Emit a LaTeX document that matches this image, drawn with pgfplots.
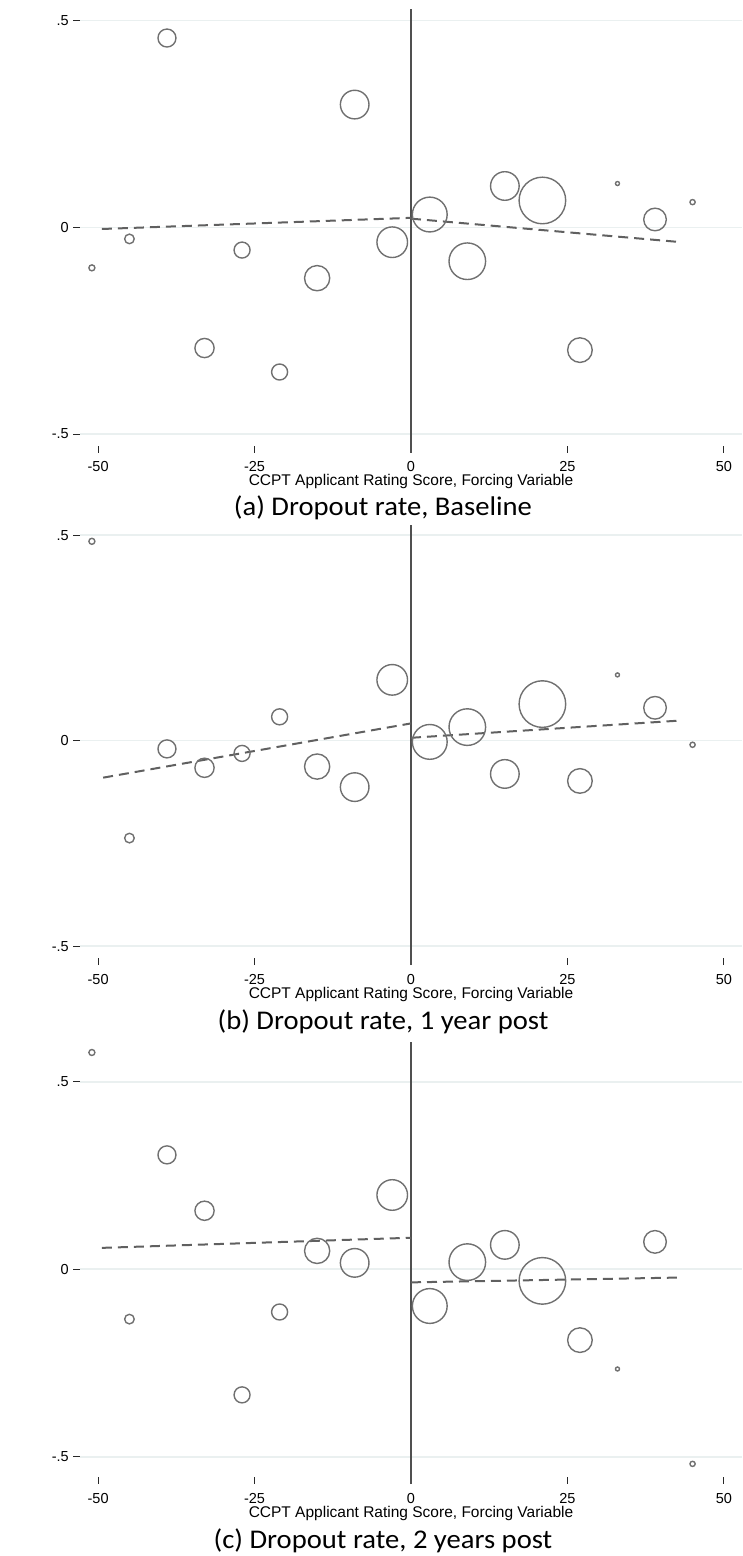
\documentclass[border=0pt]{standalone}
\usepackage{fontspec}
\setmainfont{Liberation Sans}
\newfontfamily\capfont[FakeStretch=1.06]{Carlito}
\usepackage{pgfplots}
\usepackage{pgfplotstable}
\pgfplotsset{compat=1.18}

\definecolor{circ}{RGB}{112,112,112}
\definecolor{fitc}{RGB}{96,96,96}
\definecolor{cutc}{RGB}{80,80,80}
\definecolor{gridc}{RGB}{234,240,240}
\definecolor{tickc}{RGB}{40,40,40}

% binned means: bin centre, mean dropout, marker radius (pt)
\pgfplotstableread[row sep=\\]{
x y r\\
-51 -0.098 3.0\\
-45 -0.028 4.8\\
-39 0.458 9.0\\
-33 -0.292 9.6\\
-27 -0.055 8.0\\
-21 -0.350 8.0\\
-15 -0.123 12.6\\
-9 0.297 14.3\\
-3 -0.036 15.3\\
3 0.031 17.4\\
9 -0.082 18.3\\
15 0.100 14.3\\
21 0.065 23.3\\
27 -0.297 12.3\\
33 0.106 2.0\\
39 0.019 11.3\\
45 0.061 2.6\\
}\tabA

\pgfplotstableread[row sep=\\]{
x y r\\
-51 0.485 3.0\\
-45 -0.237 4.8\\
-39 -0.020 9.0\\
-33 -0.066 9.6\\
-27 -0.031 8.0\\
-21 0.058 8.0\\
-15 -0.063 12.6\\
-9 -0.113 14.3\\
-3 0.148 15.3\\
3 -0.003 17.4\\
9 0.033 18.3\\
15 -0.081 14.3\\
21 0.089 23.3\\
27 -0.098 12.3\\
33 0.160 2.0\\
39 0.080 11.3\\
45 -0.010 2.6\\
}\tabB

\pgfplotstableread[row sep=\\]{
x y r\\
-51 0.578 3.0\\
-45 -0.133 4.8\\
-39 0.305 9.0\\
-33 0.156 9.6\\
-27 -0.335 8.0\\
-21 -0.114 8.0\\
-15 0.049 12.6\\
-9 0.017 14.3\\
-3 0.198 15.3\\
3 -0.098 17.4\\
9 0.019 18.3\\
15 0.065 14.3\\
21 -0.031 23.3\\
27 -0.189 12.3\\
33 -0.266 2.0\\
39 0.073 11.3\\
45 -0.519 2.6\\
}\tabC

\pgfplotsset{
  rdplot/.style={
    scale only axis,
    width=662pt,
    xmin=-52.9, xmax=52.9,
    axis line style={draw=none},
    clip=false,
    xtick={-50,-25,0,25,50},
    xticklabels={-50,-25,0,25,50},
    ytick={-0.5,0,0.5},
    yticklabels={-.5,0,.5},
    xtick pos=lower, ytick pos=lower,
    tick align=outside,
    major tick length=7pt,
    tick style={tickc, line width=0.9pt},
    ymajorgrids,
    grid style={gridc, line width=1.6pt},
    ticklabel style={font=\fontsize{14.5}{17}\selectfont, inner sep=0pt},
    xticklabel style={anchor=base, yshift=-19pt},
    yticklabel style={anchor=east, xshift=-4pt},
    xlabel={CCPT Applicant Rating Score, Forcing Variable},
    xlabel style={font=\fontsize{15.5}{18}\selectfont, inner sep=0pt,
      at={(axis description cs:0.5,0)}, anchor=base, yshift=-40pt},
  },
  bins/.style={scatter, only marks, mark=o, line width=1.4pt,
    scatter/use mapped color={draw=circ},
    visualization depends on={\thisrow{r}\as\rad},
    scatter/@pre marker code/.append style={/tikz/mark size=\rad}},
  fit/.style={fitc, line width=2pt, dash pattern=on 10pt off 6pt, no marks},
  cut/.style={cutc, line width=2pt, no marks},
}

\begin{document}
\begin{tikzpicture}
\useasboundingbox (0pt,0pt) rectangle (742pt,1556pt);

% (a) baseline
\begin{axis}[rdplot, at={(80pt,1110.4pt)}, anchor=south west,
  height=436.5pt, ymin=-0.528, ymax=0.528]
  \addplot[cut] coordinates {(0,-0.545) (0,0.528)};
  \addplot[fit] coordinates {(-49.4,-0.004) (0,0.023)};
  \addplot[fit] coordinates {(0,0.021) (43.3,-0.036)};
  \addplot[bins] table[x=x,y=y] {\tabA};
\end{axis}
\node[anchor=base] at (383pt,1040pt) {\capfont\fontsize{27}{32}\selectfont (a) Dropout rate, Baseline};

% (b) one year after
\begin{axis}[rdplot, at={(80pt,597.9pt)}, anchor=south west,
  height=433.2pt, ymin=-0.529, ymax=0.525]
  \addplot[cut] coordinates {(0,-0.546) (0,0.525)};
  \addplot[fit] coordinates {(-49.2,-0.090) (0,0.042)};
  \addplot[fit] coordinates {(0,0.007) (43.1,0.049)};
  \addplot[bins] table[x=x,y=y] {\tabB};
\end{axis}
\node[anchor=base] at (383pt,526pt) {\capfont\fontsize{27}{32}\selectfont (b) Dropout rate, 1 year post};

% (c) two years after
\begin{axis}[rdplot, at={(80pt,79pt)}, anchor=south west,
  height=435pt, ymin=-0.554, ymax=0.606]
  \addplot[cut] coordinates {(0,-0.573) (0,0.606)};
  \addplot[fit] coordinates {(-49.4,0.057) (0,0.084)};
  \addplot[fit] coordinates {(0,-0.035) (43.4,-0.022)};
  \addplot[bins] table[x=x,y=y] {\tabC};
\end{axis}
\node[anchor=base] at (383pt,8pt) {\capfont\fontsize{27}{32}\selectfont (c) Dropout rate, 2 years post};
\end{tikzpicture}
\end{document}
